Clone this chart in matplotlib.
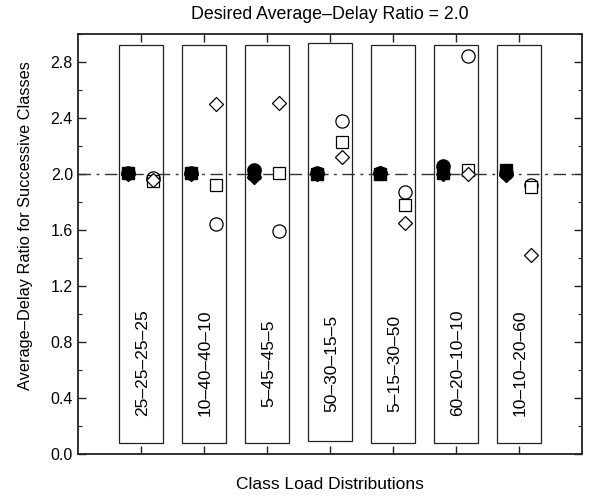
import matplotlib.pyplot as plt
from matplotlib.patches import Rectangle
from matplotlib.ticker import MultipleLocator

plt.rcParams['font.family'] = ['Liberation Sans', 'DejaVu Sans']

distributions = ['25\u201325\u201325\u201325', '10\u201340\u201340\u201310', '5\u201345\u201345\u20135',
                 '50\u201330\u201315\u20135', '5\u201315\u201330\u201350', '60\u201320\u201310\u201310',
                 '10\u201310\u201320\u201360']
box_bottom = [0.08, 0.08, 0.08, 0.09, 0.08, 0.08, 0.08]
box_top = [2.92, 2.92, 2.92, 2.935, 2.925, 2.925, 2.925]

# left column (filled) and right column (open) ratios
filled_circle = [2.01, 2.01, 2.03, 2.01, 2.01, 2.06, 2.01]
filled_square = [2.01, 2.01, 2.01, 2.00, 2.00, 2.01, 2.03]
filled_diamond = [2.00, 2.00, 1.98, 2.00, 2.01, 2.00, 1.99]
open_circle = [1.97, 1.64, 1.59, 2.38, 1.87, 2.84, 1.92]
open_square = [1.95, 1.92, 2.01, 2.23, 1.78, 2.03, 1.91]
open_diamond = [1.96, 2.50, 2.51, 2.12, 1.65, 2.00, 1.42]

target = 2.0

fig = plt.figure(figsize=(5.89, 4.97), dpi=100)
ax = fig.add_axes([0.132, 0.0865, 0.8555, 0.845])

x = list(range(1, len(distributions) + 1))
for i, xi in enumerate(x):
    ax.add_patch(Rectangle((xi - 0.35, box_bottom[i]), 0.70, box_top[i] - box_bottom[i],
                           fill=False, edgecolor='#222222', linewidth=0.9, zorder=1))
    ax.text(xi + 0.03, 0.65, distributions[i], rotation=90, ha='center', va='center',
            fontsize=12.5, color='black')

ax.axhline(target, color='#333333', linewidth=1.0, linestyle=(0, (9, 4, 2, 4)), zorder=2)

xl = [xi - 0.2 for xi in x]
xr = [xi + 0.2 for xi in x]
ax.plot(xl, filled_diamond, 'D', color='black', markersize=7.5, linestyle='none', zorder=3)
ax.plot(xl, filled_square, 's', color='black', markersize=9, linestyle='none', zorder=3)
ax.plot(xl, filled_circle, 'o', color='black', markersize=9.5, linestyle='none', zorder=3)
ax.plot(xr, open_circle, 'o', mfc='white', mec='black', mew=0.9, markersize=9.5, linestyle='none', zorder=3)
ax.plot(xr, open_square, 's', mfc='white', mec='black', mew=0.9, markersize=8, linestyle='none', zorder=4)
ax.plot(xr, open_diamond, 'D', mfc='white', mec='black', mew=0.9, markersize=7, linestyle='none', zorder=5)

ax.set_xlim(0, 8)
ax.set_ylim(0, 3.0)
ax.set_xticks(x)
ax.set_xticklabels([])
ax.yaxis.set_major_locator(MultipleLocator(0.4))
ax.yaxis.set_minor_locator(MultipleLocator(0.2))
ax.set_yticks([0.0, 0.4, 0.8, 1.2, 1.6, 2.0, 2.4, 2.8])
ax.yaxis.set_major_formatter(plt.FuncFormatter(lambda v, p: f'{v:.1f}'))
ax.tick_params(which='both', direction='in', top=True, right=True, labelsize=11.5, color='#222222')
ax.tick_params(which='major', length=6, width=1)
ax.tick_params(which='minor', length=3, width=0.8)
for s in ax.spines.values():
    s.set_linewidth(1.3)
    s.set_color('#222222')

ax.set_title('Desired Average\u2013Delay Ratio = 2.0', fontsize=12.8, pad=11)
ax.set_ylabel('Average\u2013Delay Ratio for Successive Classes', fontsize=11.75)
ax.yaxis.set_label_coords(-0.089, 0.543)
ax.set_xlabel('Class Load Distributions', fontsize=12.5, labelpad=13)

fig.savefig('out.png', dpi=100)
